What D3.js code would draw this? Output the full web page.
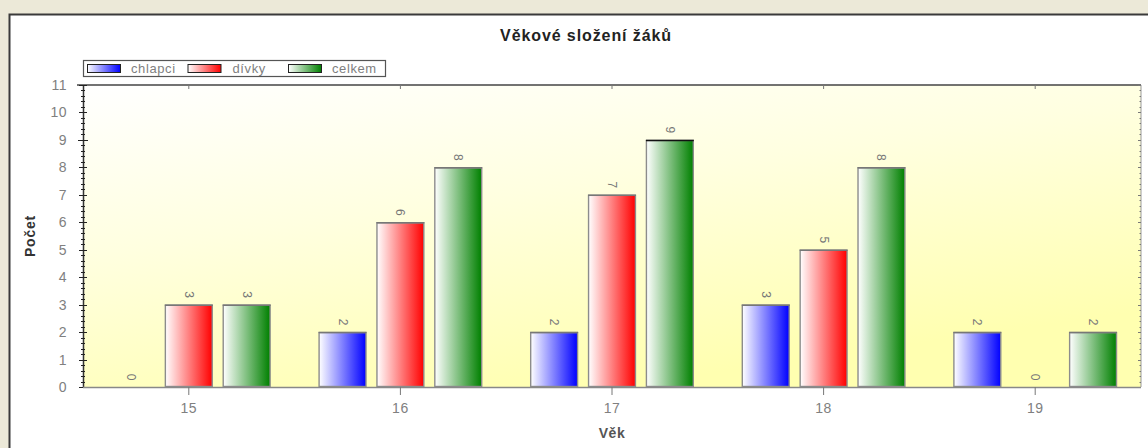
<!DOCTYPE html>
<html><head><meta charset="utf-8">
<script src="https://cdn.jsdelivr.net/npm/d3@7"></script>
<style>body{margin:0;background:#ece9d8;overflow:hidden}svg{display:block;font-family:"Liberation Sans",Arial,sans-serif}</style>
</head><body>
<svg id="c" width="1148" height="448"></svg>
<script>
const ages = ["15","16","17","18","19"];
const seriesNames = ["chlapci","dívky","celkem"];
const chlapci = [0,2,2,3,2];
const divky = [3,6,7,5,0];
const celkem = [3,8,9,8,2];
const yTicks = [0,1,2,3,4,5,6,7,8,9,10,11];
const seriesColors = ["#0000ff","#ff0000","#008000"];
const title = "Věkové složení žáků";
const xTitle = "Věk";
const yTitle = "Počet";

const svg = d3.select("#c");
const L=83, R=1141, T=85, B=387;
const defs = svg.append("defs");

svg.append("rect").attr("x",9.5).attr("y",14.5).attr("width",1200).attr("height",500)
  .attr("fill","#fff").attr("stroke","#3a3a3a").attr("stroke-width",2);

const bg = defs.append("linearGradient").attr("id","bg").attr("x1","0").attr("y1","0").attr("x2","0.5").attr("y2","1");
bg.append("stop").attr("offset","0").attr("stop-color","#ffffff");
bg.append("stop").attr("offset","0.45").attr("stop-color","#ffffe0");
bg.append("stop").attr("offset","1").attr("stop-color","#ffffb0");
svg.append("rect").attr("x",L).attr("y",T).attr("width",R-L).attr("height",B-T).attr("fill","url(#bg)");

seriesColors.forEach((c,i)=>{
  const g = defs.append("linearGradient").attr("id","g"+i).attr("x1","0").attr("y1","0").attr("x2","1").attr("y2","0");
  g.append("stop").attr("offset","0").attr("stop-color","#ffffff");
  g.append("stop").attr("offset","1").attr("stop-color",c);
});

const x0 = d3.scaleBand().domain(ages).range([L,R]);
const bw = x0.bandwidth();
const x1 = d3.scaleBand().domain(seriesNames).range([bw*0.1134, bw*0.8866]).paddingInner(10/58);
const y = d3.scaleLinear().domain([0,11]).range([B,T]);

const data = [chlapci,divky,celkem];
const flat = [];
ages.forEach((a,i)=>seriesNames.forEach((s,j)=>flat.push({a,s,j,v:data[j][i]})));
const pos = flat.filter(d=>d.v>0);

const bars = svg.append("g");
bars.selectAll("rect").data(pos).join("rect")
  .attr("x",d=>x0(d.a)+x1(d.s)+0.5).attr("y",d=>y(d.v)+0.5)
  .attr("width",x1.bandwidth()-1).attr("height",d=>B-y(d.v)-1)
  .attr("fill",d=>"url(#g"+d.j+")").attr("stroke","#8c8c8c").attr("stroke-width",1.4);
bars.selectAll("line").data(pos).join("line")
  .attr("x1",d=>x0(d.a)+x1(d.s)).attr("x2",d=>x0(d.a)+x1(d.s)+x1.bandwidth())
  .attr("y1",d=>y(d.v)+0.5).attr("y2",d=>y(d.v)+0.5)
  .attr("stroke",d=>d.v===9?"#111":"#777").attr("stroke-width",1.5);

svg.append("g").selectAll("text").data(flat).join("text")
  .attr("transform",d=>`translate(${x0(d.a)+x1(d.s)+x1.bandwidth()/2},${y(d.v)-10}) rotate(90)`)
  .attr("text-anchor","middle").attr("dominant-baseline","central")
  .attr("font-size",12).attr("fill","#777").text(d=>d.v);

svg.append("line").attr("x1",L-6).attr("x2",R).attr("y1",T).attr("y2",T).attr("stroke","#444").attr("stroke-width",1.5);
svg.append("line").attr("x1",R).attr("x2",R).attr("y1",T).attr("y2",B).attr("stroke","#999").attr("stroke-width",1);

const yAxis = d3.axisLeft(y).tickValues(yTicks).tickSize(0).tickPadding(16);
const ya = svg.append("g").attr("transform",`translate(${L},0)`).call(yAxis);
ya.select(".domain").attr("stroke","#333").attr("stroke-width",1.5);
ya.selectAll("text").attr("font-size",14).attr("fill","#808080").attr("letter-spacing","0.5").attr("font-family","Liberation Sans, Arial, sans-serif");
const minor = d3.range(0,11.01,0.2).map(v=>+v.toFixed(1));
const isMajor = v=>Math.abs(v-Math.round(v))<1e-6;
svg.append("g").selectAll("line").data(minor).join("line")
  .attr("x1",v=>L-(isMajor(v)?(v===9?5:4):2)).attr("x2",v=>L+(isMajor(v)?(v===9?5:4):2))
  .attr("y1",v=>Math.round(y(v))+0.5).attr("y2",v=>Math.round(y(v))+0.5)
  .attr("stroke","#222").attr("stroke-width",1);
svg.append("g").selectAll("line").data(minor).join("line")
  .attr("x1",v=>R-(isMajor(v)?3:1.5)).attr("x2",R)
  .attr("y1",v=>Math.round(y(v))+0.5).attr("y2",v=>Math.round(y(v))+0.5)
  .attr("stroke","#777").attr("stroke-width",1);

const xAxis = d3.axisBottom(x0).tickSize(8).tickPadding(8);
const xa = svg.append("g").attr("transform",`translate(0,${B})`).call(xAxis);
xa.select(".domain").attr("d",`M${L},0.5H${R}`).attr("stroke","#888").attr("stroke-width",1.5);
xa.selectAll(".tick line").attr("stroke","#777");
xa.selectAll("text").attr("font-size",14).attr("fill","#808080").attr("letter-spacing","0.5").attr("font-family","Liberation Sans, Arial, sans-serif");
svg.append("g").selectAll("line").data(ages).join("line")
  .attr("x1",a=>x0(a)+bw/2).attr("x2",a=>x0(a)+bw/2).attr("y1",T).attr("y2",T+4).attr("stroke","#777");

svg.append("text").attr("x",586).attr("y",41).attr("text-anchor","middle").attr("font-size",16).attr("letter-spacing","0.9").attr("font-weight","bold").attr("fill","#222").text(title);
svg.append("text").attr("x",612).attr("y",438).attr("text-anchor","middle").attr("font-size",14).attr("letter-spacing","0.6").attr("font-weight","bold").attr("fill","#555").text(xTitle);
svg.append("text").attr("transform",`translate(35,${(T+B)/2}) rotate(-90)`).attr("text-anchor","middle").attr("font-size",14).attr("letter-spacing","0.8").attr("font-weight","bold").attr("fill","#333").text(yTitle);

const lg = svg.append("g");
lg.append("rect").attr("x",83.5).attr("y",60.5).attr("width",302).attr("height",16).attr("fill","#fff").attr("stroke","#555").attr("stroke-width",1.2);
const legX = d3.scalePoint().domain(seriesNames).range([87,288]);
lg.selectAll("rect.sw").data(seriesNames).join("rect").attr("class","sw")
  .attr("x",s=>legX(s)+0.5).attr("y",64.5).attr("width",33).attr("height",8)
  .attr("fill",(s,i)=>"url(#g"+i+")").attr("stroke","#222");
lg.selectAll("text").data(seriesNames).join("text")
  .attr("x",(s,i)=>legX(s)+[44,45,44][i]).attr("y",72.5).attr("font-size",13).attr("letter-spacing","0.6").attr("fill","#808080").text(s=>s);
</script>
</body></html>
